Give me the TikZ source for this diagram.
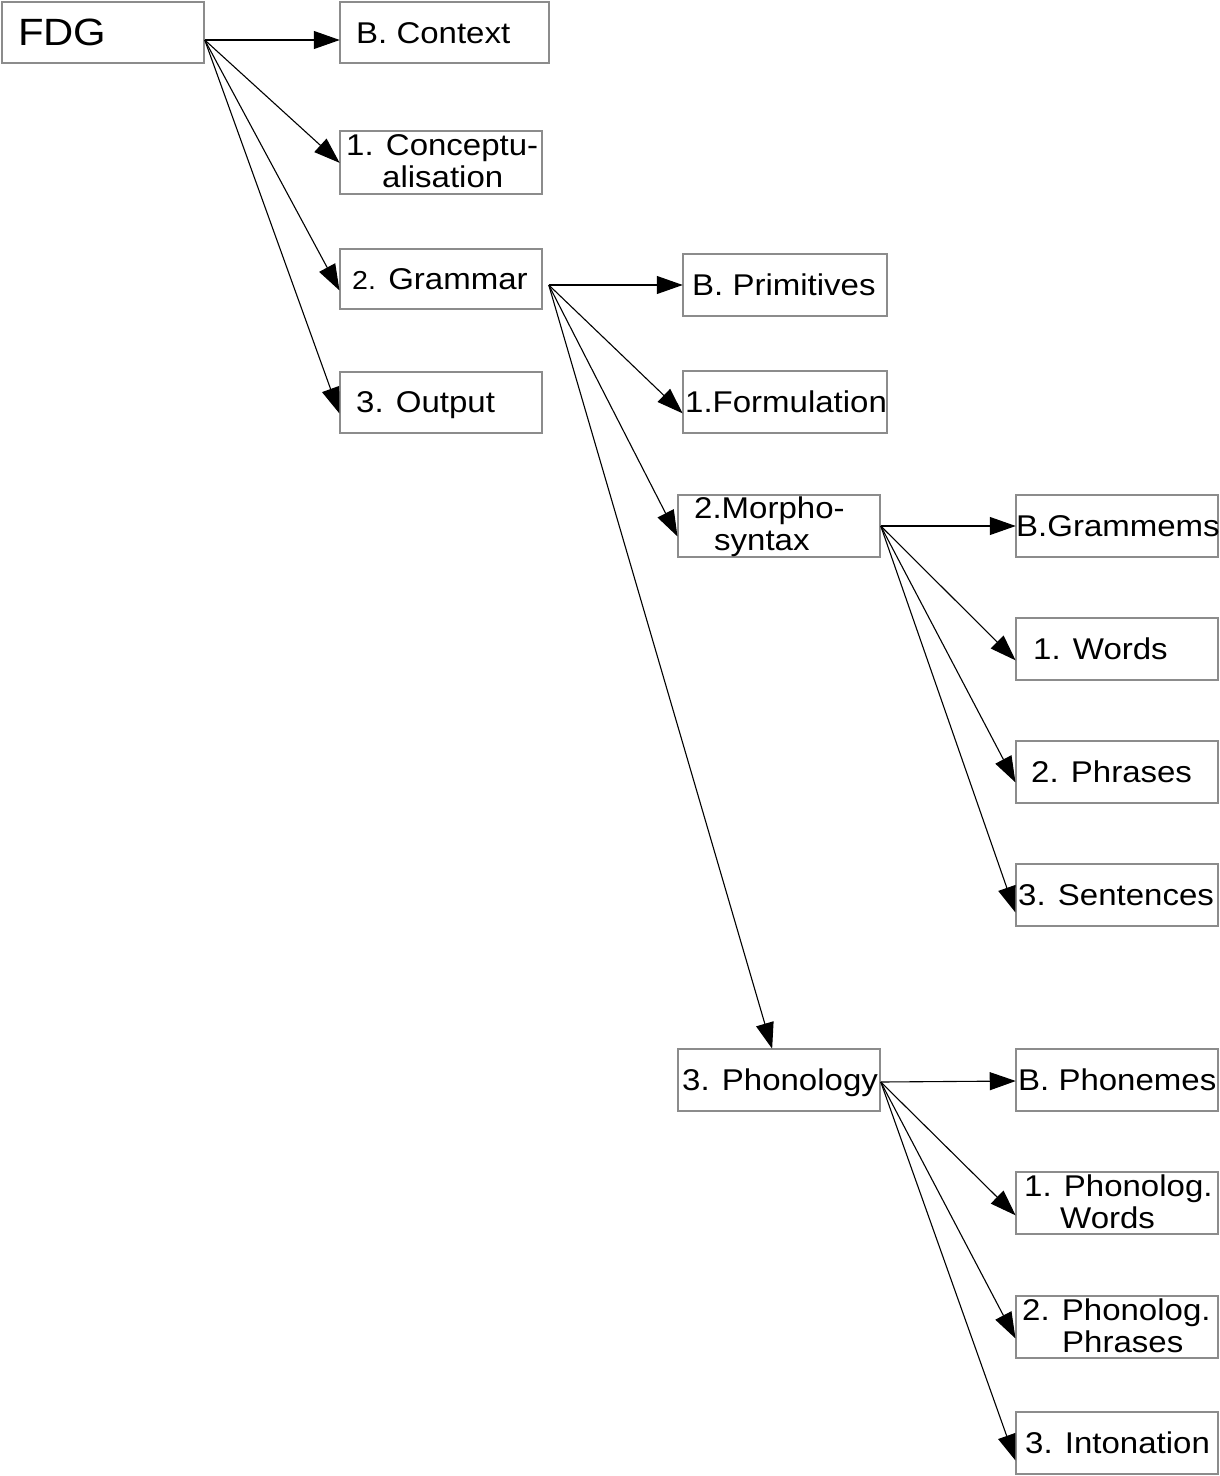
\documentclass[tikz,border=0pt]{standalone}
\usepackage{fontspec}
\setmainfont{Liberation Sans}[FakeStretch=1.1]
\usetikzlibrary{arrows.meta,calc}
\tikzset{
  box/.style={draw=black!45, line width=1.5pt, rectangle, inner sep=0pt, minimum width=202pt, minimum height=62pt},
  txt/.style={anchor=base west, inner sep=0pt, font=\fontsize{30}{32}\selectfont},
  arr/.style={-{Triangle[length=26pt,width=18pt]}, line width=1.1pt, black, shorten >=-0.5pt}
}
\begin{document}
\begin{tikzpicture}[x=1pt,y=-1pt]
\useasboundingbox (0,0) rectangle (1220,1476);
% boxes
\node[box, minimum width=202pt, minimum height=61pt] (fdg) at (103,32.5) {};
\node[box, minimum width=209pt, minimum height=61pt] (ctx) at (444.5,32.5) {};
\node[box, minimum height=63pt] (concept) at (441,162.5) {};
\node[box, minimum height=60pt] (gram) at (441,279) {};
\node[box, minimum height=61pt] (out) at (441,402.5) {};
\node[box, minimum width=204pt] (prim) at (785,285) {};
\node[box, minimum width=204pt] (form) at (785,402) {};
\node[box] (morph) at (779,526) {};
\node[box] (gramm) at (1117,526) {};
\node[box] (words) at (1117,649) {};
\node[box] (phr) at (1117,772) {};
\node[box] (sent) at (1117,895) {};
\node[box] (phon) at (779,1080) {};
\node[box] (phm) at (1117,1080) {};
\node[box] (pw) at (1117,1203) {};
\node[box] (pp) at (1117,1327) {};
\node[box] (inton) at (1117,1443) {};
% texts
\node[txt, font=\fontsize{38}{40}\selectfont] (t-fdg) at (18,45) {FDG};
\node[txt] (t-ctx) at (356,43) {B. Context};
\node[txt] (t-concept1) at (346,155) {1. Conceptu-};
\node[txt] (t-concept2) at (382,187) {alisation};
\node[txt] (t-gram) at (352,289) {{\fontsize{26}{28}\selectfont 2.} Grammar};
\node[txt] (t-out) at (356,412) {3. Output};
\node[txt] (t-prim) at (692,295) {B. Primitives};
\node[txt] (t-form) at (685,412) {1.Formulation};
\node[txt] (t-morph1) at (694,518) {2.Morpho-};
\node[txt] (t-morph2) at (714,550) {syntax};
\node[txt] (t-gramm) at (1016,536) {B.Grammems};
\node[txt] (t-words) at (1033,659) {1. Words};
\node[txt] (t-phr) at (1031,782) {2. Phrases};
\node[txt] (t-sent) at (1018,905) {3. Sentences};
\node[txt] (t-phon) at (682,1090) {3. Phonology};
\node[txt] (t-phm) at (1018,1090) {B. Phonemes};
\node[txt] (t-pw1) at (1024,1196) {1. Phonolog.};
\node[txt] (t-pw2) at (1060,1228) {Words};
\node[txt] (t-pp1) at (1022,1320) {2. Phonolog.};
\node[txt] (t-pp2) at (1062,1352) {Phrases};
\node[txt] (t-inton) at (1025,1453) {3. Intonation};
% start points
\coordinate (fdgO) at ($(fdg.east)+(0,7.5)$);
\coordinate (gramO) at ($(gram.east)+(6,6)$);
\coordinate (morphO) at (morph.east);
\coordinate (phonO) at ($(phon.east)+(0,2)$);
% connectors
\draw[arr] (fdgO) -- (ctx.west |- fdgO);
\draw[arr] (fdgO) -- (concept.west);
\draw[arr] (fdgO) -- ($(gram.west)+(0,11)$);
\draw[arr] (fdgO) -- ($(out.west)+(0,10.5)$);
\draw[arr] (gramO) -- (prim.west |- gramO);
\draw[arr] (gramO) -- ($(form.west)+(0,11)$);
\draw[arr] (gramO) -- ($(morph.west)+(0,10)$);
\draw[arr] (gramO) -- ($(phon.north)+(-7,0)$);
\draw[arr] (morphO) -- (gramm.west);
\draw[arr] (morphO) -- ($(words.west)+(0,11)$);
\draw[arr] (morphO) -- ($(phr.west)+(0,10)$);
\draw[arr] (morphO) -- ($(sent.west)+(0,17)$);
\draw[arr] (phonO) -- ($(phm.west)+(0,1)$);
\draw[arr] (phonO) -- ($(pw.west)+(0,12)$);
\draw[arr] (phonO) -- ($(pp.west)+(0,11)$);
\draw[arr] (phonO) -- ($(inton.west)+(0,17)$);
\end{tikzpicture}
\end{document}
